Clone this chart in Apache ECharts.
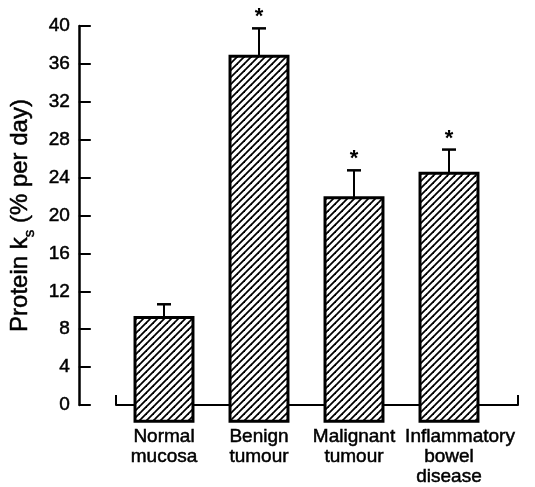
<!DOCTYPE html>
<html>
<head>
<meta charset="utf-8">
<script src="https://cdn.jsdelivr.net/npm/echarts@6/dist/echarts.min.js"></script>
<style>html,body{margin:0;padding:0;background:#fff;}#c{width:535px;height:487px;}</style>
</head>
<body>
<div id="c"></div>
<script>
const categories = ['Normal\nmucosa', 'Benign\ntumour', 'Malignant\ntumour', 'Inflammatory\nbowel\ndisease'];
const means = [9.1, 36.8, 21.8, 24.4];
const sem = [1.4, 2.95, 2.9, 2.5];
const significant = [0, 1, 1, 1];
const yTicks = { min: 0, max: 40, interval: 4 };
const yBelowZero = 1.9;

const FONT = '"Liberation Sans", Arial, Helvetica, sans-serif';

// hatch pattern
const pc = document.createElement('canvas');
pc.width = 7; pc.height = 7;
const ctx = pc.getContext('2d');
ctx.fillStyle = '#fff'; ctx.fillRect(0, 0, 7, 7);
ctx.strokeStyle = '#000'; ctx.lineWidth = 1.8;
for (const k of [-7, 0, 7]) {
  ctx.beginPath(); ctx.moveTo(k - 1, 8); ctx.lineTo(k + 8, -1); ctx.stroke();
}
const hatch = { image: pc, repeat: 'repeat' };

const txt = { color: '#000', fontFamily: FONT, textBorderColor: '#000', textBorderWidth: 0.5 };

function catLabel(value) {
  const lines = value.split('\n');
  // the first line of a three-line label sits slightly to the right in the original
  if (lines.length > 2) return '{o|' + lines[0] + '}\n{n|' + lines.slice(1).join('}\n{n|') + '}';
  return '{n|' + lines.join('}\n{n|') + '}';
}

const chart = echarts.init(document.getElementById('c'), null, { renderer: 'canvas' });

chart.setOption({
  animation: false,
  backgroundColor: '#fff',
  grid: [
    { left: 77, top: 26, width: 441, height: 379 },
    { left: 116, top: 26, width: 402, height: 397 },
    { left: 116.5, top: 26, width: 380, height: 397 }
  ],
  xAxis: [
    { gridIndex: 0, type: 'value', show: false },
    { gridIndex: 1, type: 'value', min: 0, max: 1, interval: 1,
      axisLine: { show: true, lineStyle: { color: '#000', width: 2 } },
      axisTick: { show: true, inside: true, length: 10, lineStyle: { color: '#000', width: 2 } },
      axisLabel: { show: false }, splitLine: { show: false } },
    { gridIndex: 2, type: 'category', data: categories,
      axisLine: { show: false }, axisTick: { show: false },
      axisLabel: { interval: 0, margin: 6, formatter: catLabel,
        rich: {
          n: Object.assign({ fontSize: 19, lineHeight: 20 }, txt),
          o: Object.assign({ fontSize: 19, lineHeight: 20, padding: [0, 0, 0, 22] }, txt)
        } } }
  ],
  yAxis: [
    { gridIndex: 0, type: 'value', min: yTicks.min, max: yTicks.max, interval: yTicks.interval,
      name: '{a|Protein k}{s|s}{a| (% per day)}',
      nameLocation: 'middle', nameGap: 24,
      nameTextStyle: { rich: {
        a: Object.assign({ fontSize: 24, lineHeight: 28, verticalAlign: 'bottom', padding: [0, 0, 5, 0] }, txt),
        s: Object.assign({ fontSize: 15, lineHeight: 16, verticalAlign: 'bottom' }, txt)
      } },
      axisLine: { show: true, lineStyle: { color: '#000', width: 2.5 } },
      axisTick: { show: true, inside: true, length: 12, lineStyle: { color: '#000', width: 2 } },
      axisLabel: Object.assign({ margin: 9, fontSize: 19 }, txt),
      splitLine: { show: false } },
    { gridIndex: 1, type: 'value', show: false, min: -yBelowZero, max: yTicks.max },
    { gridIndex: 2, type: 'value', show: false, min: -yBelowZero, max: yTicks.max }
  ],
  series: [{
    type: 'custom',
    xAxisIndex: 2, yAxisIndex: 2,
    data: means.map((m, i) => [i, m, sem[i], significant[i]]),
    encode: { x: 0, y: 1 },
    renderItem: function (params, api) {
      const i = api.value(0), v = api.value(1), e = api.value(2), sig = api.value(3);
      const top = api.coord([i, v]);
      const cap = api.coord([i, v + e]);
      const bw = api.size([1, 0])[0] * 0.61;
      const cs = params.coordSys;
      const bottom = cs.y + cs.height;
      const children = [
        { type: 'rect', shape: { x: top[0] - bw / 2, y: top[1], width: bw, height: bottom - top[1] },
          style: { fill: hatch, stroke: '#000', lineWidth: 3 } },
        { type: 'line', shape: { x1: top[0], y1: top[1], x2: cap[0], y2: cap[1] },
          style: { stroke: '#000', lineWidth: 2 } },
        { type: 'line', shape: { x1: cap[0] - 7, y1: cap[1], x2: cap[0] + 7, y2: cap[1] },
          style: { stroke: '#000', lineWidth: 2.5 } }
      ];
      if (sig) {
        children.push({ type: 'text', x: cap[0], y: cap[1] - 11,
          style: { text: '*', fontSize: 22, fontWeight: 'bold', fontFamily: FONT, fill: '#000',
                   align: 'center', verticalAlign: 'middle' } });
      }
      return { type: 'group', children: children };
    }
  }]
});
</script>
</body>
</html>
